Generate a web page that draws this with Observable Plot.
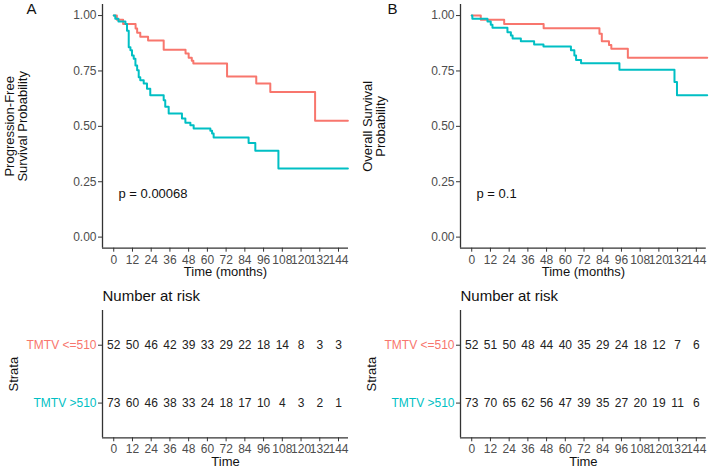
<!DOCTYPE html>
<html>
<head>
<meta charset="utf-8">
<script src="https://cdn.jsdelivr.net/npm/d3@7"></script>
<script src="https://cdn.jsdelivr.net/npm/@observablehq/plot@0.6"></script>
<style>
  html, body { margin: 0; padding: 0; background: white; }
  #wrap { position: relative; width: 709px; height: 469px; overflow: hidden; background: white; }
  #wrap > div { position: absolute; }
  svg { overflow: visible; }
</style>
</head>
<body>
<div id="wrap">
  <div id="sa" style="left:0px; top:0px;"></div>
  <div id="sb" style="left:358px; top:0px;"></div>
  <div id="ta" style="left:0px; top:285px;"></div>
  <div id="tb" style="left:358px; top:285px;"></div>
</div>
<script>
// ---------- data ----------
const strata = ["TMTV <=510", "TMTV >510"];
const strataColors = ["#F8766D", "#00BFC4"];
const timeTicks = [0, 12, 24, 36, 48, 60, 72, 84, 96, 108, 120, 132, 144];
const survTicks = [0, 0.25, 0.5, 0.75, 1];

// Panel A: progression-free survival
const timeA_low  = [0, 2, 6, 14, 15, 17, 22, 32, 46, 48, 50, 51, 72.6, 91.3, 100.3, 129, 150];
const survA_low  = [1, 0.981, 0.962, 0.942, 0.923, 0.904, 0.887, 0.846, 0.829, 0.81, 0.796, 0.784, 0.725, 0.693, 0.655, 0.525, 0.525];
const timeA_high = [0, 1, 3, 7.5, 8.5, 9.6, 10.7, 11.7, 12.8, 13.9, 15, 16, 17, 19.2, 21.3, 23.4, 32, 33, 35.2, 43.7, 45.9, 49.1, 51.2, 61.9, 63, 64, 86.4, 90.7, 105.5, 150];
const survA_high = [1, 0.986, 0.973, 0.962, 0.932, 0.857, 0.843, 0.82, 0.805, 0.775, 0.753, 0.722, 0.708, 0.693, 0.67, 0.64, 0.618, 0.588, 0.558, 0.535, 0.516, 0.505, 0.49, 0.48, 0.468, 0.45, 0.425, 0.39, 0.31, 0.31];
const riskA_low  = [52, 50, 46, 42, 39, 33, 29, 22, 18, 14, 8, 3, 3];
const riskA_high = [73, 60, 46, 38, 33, 24, 18, 17, 10, 4, 3, 2, 1];
const pValueA = "p = 0.00068";
const yLabelA = "Progression-Free\nSurvival Probability";

// Panel B: overall survival
const timeB_low  = [0, 5.8, 20.8, 46.1, 81.9, 83.4, 88, 89.5, 100.1, 151];
const survB_low  = [1, 0.981, 0.962, 0.943, 0.918, 0.884, 0.867, 0.85, 0.81, 0.81];
const timeB_high = [0, 0.4, 10.1, 12.2, 13.3, 22.9, 25.1, 26.2, 31.5, 40, 46, 63.6, 65.8, 66.9, 70.1, 94.7, 130, 131.6, 151];
const survB_high = [1, 0.986, 0.973, 0.959, 0.945, 0.925, 0.91, 0.897, 0.884, 0.87, 0.86, 0.843, 0.82, 0.8, 0.785, 0.756, 0.70, 0.64, 0.64];
const riskB_low  = [52, 51, 50, 48, 44, 40, 35, 29, 24, 18, 12, 7, 6];
const riskB_high = [73, 70, 65, 62, 56, 47, 39, 35, 27, 20, 19, 11, 6];
const pValueB = "p = 0.1";
const yLabelB = "Overall Survival\nProbability";

// ---------- helpers ----------
const FONT = "'Liberation Sans', Arial, Helvetica, sans-serif";
const xDomain = [-7.2, 150.4];
const ySurvDomain = [-0.05, 1.05];
const axisColor = "#333333";

function toRows(times, survs) {
  return times.map((t, i) => ({time: t, surv: survs[i]}));
}

function survPlot({low, high, pLabel, yLabel, letter, letterDx, width, marginRight}) {
  return Plot.plot({
    width, height: 285,
    marginLeft: 102, marginRight, marginTop: 4, marginBottom: 37.3,
    style: {fontFamily: FONT, fontSize: "12px", color: "#4d4d4d", background: "white", overflow: "visible"},
    x: {domain: xDomain},
    y: {domain: ySurvDomain},
    marks: [
      Plot.axisX({ticks: timeTicks, tickSize: 4, tickPadding: 3, stroke: axisColor, label: null, fontSize: 12}),
      Plot.axisY({ticks: survTicks, tickSize: 4, tickPadding: 2, stroke: axisColor, label: null, tickFormat: d3.format(".2f"), fontSize: 12}),
      Plot.ruleX([xDomain[0]], {stroke: axisColor, strokeWidth: 1.3}),
      Plot.ruleY([ySurvDomain[0]], {stroke: axisColor, strokeWidth: 1.3}),
      Plot.line(low, {x: "time", y: "surv", curve: "step-after", stroke: strataColors[0], strokeWidth: 2}),
      Plot.line(high, {x: "time", y: "surv", curve: "step-after", stroke: strataColors[1], strokeWidth: 2}),
      Plot.text([pLabel], {frameAnchor: "bottom-left", dx: 16, dy: -54.7, textAnchor: "start", lineAnchor: "middle", fontSize: 13, fill: "#111"}),
      Plot.text(["Time (months)"], {frameAnchor: "bottom", dy: 24, textAnchor: "middle", lineAnchor: "middle", fontSize: 13, fill: "#111"}),
      Plot.text([yLabel], {frameAnchor: "left", dx: -86.5, rotate: -90, textAnchor: "middle", lineAnchor: "middle", fontSize: 13, lineHeight: 1, fill: "#111"}),
      Plot.text([letter], {frameAnchor: "top-left", dx: letterDx, dy: 5, textAnchor: "middle", lineAnchor: "middle", fontSize: 15, fill: "#111"})
    ]
  });
}

function riskPlot({low, high, width, marginRight}) {
  const rows = [];
  timeTicks.forEach((t, i) => {
    rows.push({time: t, row: 1, n: low[i]});
    rows.push({time: t, row: 2, n: high[i]});
  });
  const yDom = [0.4, 2.6];
  return Plot.plot({
    width, height: 184,
    marginLeft: 102, marginRight, marginTop: 25, marginBottom: 31.7,
    style: {fontFamily: FONT, fontSize: "12px", color: "#4d4d4d", background: "white", overflow: "visible"},
    x: {domain: xDomain},
    y: {domain: yDom, reverse: true},
    marks: [
      Plot.axisX({ticks: timeTicks, tickSize: 4, tickPadding: 3, stroke: axisColor, label: null, fontSize: 12}),
      Plot.axisY({ticks: [1, 2], tickSize: 4, stroke: axisColor, label: null, tickFormat: () => ""}),
      Plot.ruleX([xDomain[0]], {stroke: axisColor, strokeWidth: 1.3}),
      Plot.ruleY([yDom[1]], {stroke: axisColor, strokeWidth: 1.3}),
      Plot.text(rows, {x: "time", y: "row", text: d => String(d.n), fontSize: 12, fill: "#222"}),
      Plot.text([strata[0]], {y: [1], frameAnchor: "left", dx: -6, textAnchor: "end", fontSize: 12, fill: strataColors[0]}),
      Plot.text([strata[1]], {y: [2], frameAnchor: "left", dx: -6, textAnchor: "end", fontSize: 12, fill: strataColors[1]}),
      Plot.text(["Number at risk"], {frameAnchor: "top-left", dy: -14, textAnchor: "start", lineAnchor: "middle", fontSize: 15, fill: "#111"}),
      Plot.text(["Time"], {frameAnchor: "bottom", dy: 24.4, textAnchor: "middle", lineAnchor: "middle", fontSize: 13, fill: "#111"}),
      Plot.text(["Strata"], {frameAnchor: "left", dx: -89, rotate: -90, textAnchor: "middle", lineAnchor: "middle", fontSize: 13, fill: "#111"})
    ]
  });
}

document.getElementById("sa").append(survPlot({
  low: toRows(timeA_low, survA_low), high: toRows(timeA_high, survA_high),
  pLabel: pValueA, yLabel: yLabelA, letter: "A", letterDx: -71, width: 355, marginRight: 7
}));
document.getElementById("sb").append(survPlot({
  low: toRows(timeB_low, survB_low), high: toRows(timeB_high, survB_high),
  pLabel: pValueB, yLabel: yLabelB, letter: "B", letterDx: -68, width: 351, marginRight: 3.2
}));
document.getElementById("ta").append(riskPlot({low: riskA_low, high: riskA_high, width: 355, marginRight: 7}));
document.getElementById("tb").append(riskPlot({low: riskB_low, high: riskB_high, width: 351, marginRight: 3.2}));
</script>
</body>
</html>
